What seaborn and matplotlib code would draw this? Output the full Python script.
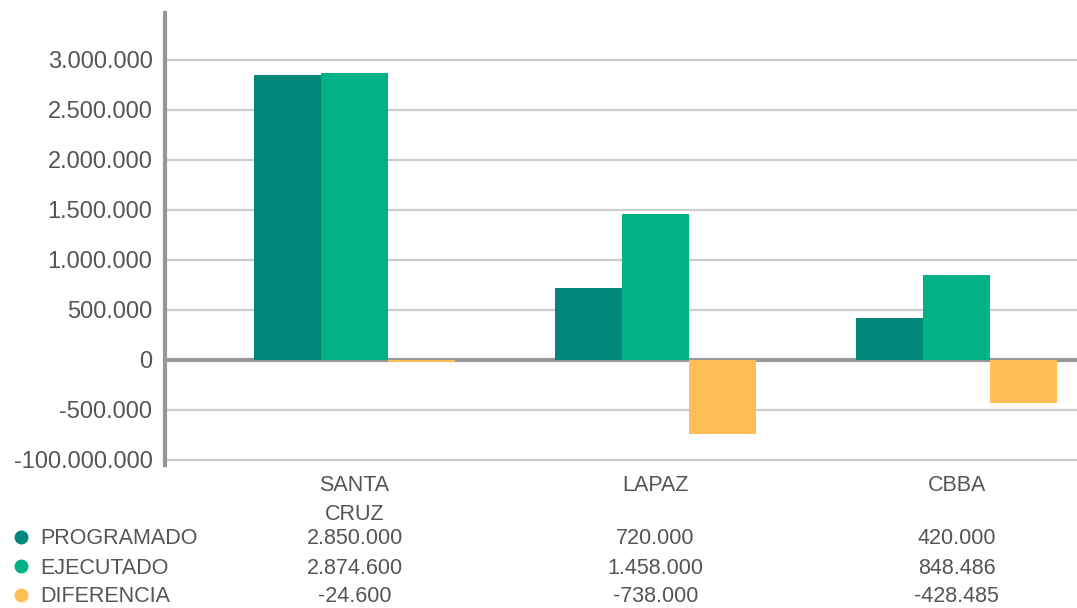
import numpy as np
import pandas as pd
import matplotlib
matplotlib.use('Agg')
from matplotlib import pyplot as plt
from matplotlib import transforms
import seaborn as sns

regiones = ['SANTA\nCRUZ', 'LAPAZ', 'CBBA']
series = ['PROGRAMADO', 'EJECUTADO', 'DIFERENCIA']
programado = [2850000, 720000, 420000]
ejecutado = [2874600, 1458000, 848486]
diferencia = [-24600, -738000, -428485]
tabla_textos = {
    'PROGRAMADO': ['2.850.000', '720.000', '420.000'],
    'EJECUTADO': ['2.874.600', '1.458.000', '848.486'],
    'DIFERENCIA': ['-24.600', '-738.000', '-428.485'],
}
y_ticks = [-1000000, -500000, 0, 500000, 1000000, 1500000, 2000000, 2500000, 3000000]
y_tick_labels = ['-100.000.000', '-500.000', '0', '500.000', '1.000.000',
                 '1.500.000', '2.000.000', '2.500.000', '3.000.000']
colores = ['#00877A', '#00B285', '#FFBF55']

TXT = '#555555'
GRID = '#cdcdcd'
AXIS = '#96969b'

sns.set_style('white')
plt.rcParams['font.family'] = ['Liberation Sans', 'DejaVu Sans']

df = pd.DataFrame({
    'region': regiones * 3,
    'serie': np.repeat(series, 3),
    'valor': programado + ejecutado + diferencia,
})

fig = plt.figure(figsize=(10.77, 6.08), dpi=100)
ax = fig.add_axes([165 / 1077, 1 - 465 / 608, 1 - 165 / 1077, (465 - 13) / 608])

sns.barplot(data=df, x='region', y='valor', hue='serie', order=regiones,
            hue_order=series, palette=colores, width=0.667, saturation=1,
            linewidth=0, legend=False, ax=ax, zorder=3)

ax.set_ylim(-1050000, 3470000)
ax.set_xlim(-0.63, 2.40)
ax.set_yticks(y_ticks)
ax.set_yticklabels(y_tick_labels)
ax.set_xlabel('')
ax.set_ylabel('')
ax.tick_params(axis='y', length=0, pad=9, labelsize=17, labelcolor=TXT)
ax.tick_params(axis='x', length=0, pad=7, labelsize=15.5, labelcolor=TXT)
for lab in ax.get_xticklabels():
    lab.set_linespacing(1.5)

for t in y_ticks:
    if t != 0:
        ax.axhline(t, color=GRID, lw=1.6, zorder=1)
ax.axhline(0, color=AXIS, lw=3, zorder=2)

for side in ['top', 'right', 'bottom']:
    ax.spines[side].set_visible(False)
ax.spines['left'].set_color(AXIS)
ax.spines['left'].set_linewidth(3)

# tabla de valores bajo el grafico
trans = transforms.blended_transform_factory(ax.transData, fig.transFigure)
filas_y = [1 - 539 / 608, 1 - 568 / 608, 1 - 597 / 608]
for serie, color, fy in zip(series, colores, filas_y):
    fig.text(40 / 1077, fy, serie, fontsize=15.5, color=TXT, va='center', ha='left')
    fig.add_artist(plt.Line2D([21 / 1077], [fy + 0.003], marker='o', markersize=9,
                              color=color, transform=fig.transFigure))
    for i, txt in enumerate(tabla_textos[serie]):
        ax.text(i, fy, txt, transform=trans, fontsize=15.5, color=TXT,
                ha='center', va='center', clip_on=False)

fig.savefig('out.png', dpi=100)
